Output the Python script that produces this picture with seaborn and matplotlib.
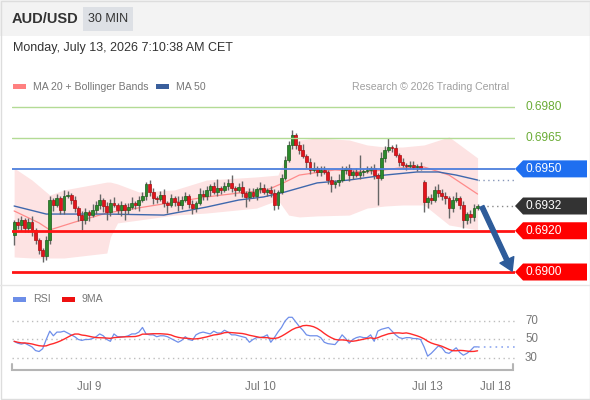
import matplotlib
matplotlib.use("Agg")
import matplotlib.pyplot as plt
import matplotlib.transforms as mtransforms
from matplotlib.patches import Polygon, Rectangle
import numpy as np
import pandas as pd
import seaborn as sns

# ---- data (AUD/USD, 30 min candles) ----
first_open = 0.69179
gap_open = {115: 0.69436}  # weekend gap into Monday
closes = [
    0.69242, 0.69228, 0.69252, 0.69213, 0.69242, 0.69204, 0.69155, 0.69107, 0.69078, 0.69155,
    0.69349, 0.69325, 0.69359, 0.69301, 0.69369, 0.69373, 0.69349, 0.69310, 0.69276, 0.69252,
    0.69291, 0.69276, 0.69301, 0.69325, 0.69349, 0.69320, 0.69291, 0.69335, 0.69325, 0.69301,
    0.69325, 0.69301, 0.69315, 0.69335, 0.69325, 0.69349, 0.69369, 0.69427, 0.69388, 0.69359,
    0.69354, 0.69373, 0.69335, 0.69325, 0.69359, 0.69339, 0.69325, 0.69349, 0.69369, 0.69330,
    0.69310, 0.69335, 0.69378, 0.69369, 0.69398, 0.69417, 0.69388, 0.69407, 0.69398, 0.69417,
    0.69432, 0.69407, 0.69398, 0.69412, 0.69383, 0.69364, 0.69388, 0.69369, 0.69402, 0.69407,
    0.69388, 0.69398, 0.69383, 0.69325, 0.69388, 0.69456, 0.69543, 0.69616, 0.69664, 0.69616,
    0.69592, 0.69562, 0.69533, 0.69495, 0.69504, 0.69485, 0.69495, 0.69485, 0.69446, 0.69427,
    0.69436, 0.69446, 0.69495, 0.69504, 0.69470, 0.69485, 0.69470, 0.69485, 0.69490, 0.69495,
    0.69504, 0.69470, 0.69456, 0.69553, 0.69592, 0.69606, 0.69601, 0.69567, 0.69533, 0.69519,
    0.69514, 0.69519, 0.69509, 0.69514, 0.69504, 0.69339, 0.69359, 0.69349, 0.69398, 0.69383,
    0.69369, 0.69359, 0.69310, 0.69349, 0.69359, 0.69325, 0.69252, 0.69281, 0.69267, 0.69310,
    0.69320]
# wick lengths in pips above / below the body
up_wick = [
    1, 2, 2, 1, 2, 3, 1, 1, 1, 2,
    2, 1, 2, 1, 3, 2, 1, 2, 1, 2,
    2, 1, 3, 2, 3, 1, 2, 2, 3, 1,
    2, 1, 2, 3, 1, 2, 2, 1, 2, 2,
    1, 2, 3, 1, 2, 1, 3, 2, 2, 1,
    2, 1, 3, 2, 2, 1, 2, 4.5, 1, 2,
    2, 4, 1, 2, 3, 1, 2, 2, 1, 3,
    2, 1, 2, 2, 1, 2, 2, 2, 2.5, 1,
    2, 3, 1, 2, 3, 1, 2, 2, 1, 2,
    1, 3, 2, 1, 2, 1, 2, 8, 1, 2,
    1, 2, 1, 3, 2, 4.5, 1, 2, 1, 2,
    1, 2, 2, 1, 2, 1, 1, 2, 2, 3,
    2, 2, 1, 2, 3, 1, 2, 1, 2, 2,
    1]
dn_wick = [
    5, 2, 3, 2, 2, 3, 2, 2, 3, 2,
    2, 3, 1, 2, 2, 1, 2, 2, 3, 5,
    2, 3, 1, 2, 2, 3, 4, 2, 1, 2,
    3, 5, 2, 1, 2, 3, 1, 2, 2, 3,
    2, 1, 2, 4, 1, 2, 3, 2, 1, 2,
    3, 2, 1, 2, 2, 3, 1, 2, 2, 1,
    2, 2, 3, 1, 2, 5, 2, 1, 2, 2,
    1, 2, 2, 2.5, 2, 1, 1, 1, 2, 2,
    2, 1, 3, 2, 1, 2, 2, 1, 2, 4,
    2, 2, 1, 2, 3, 2, 1, 2, 2, 1,
    2, 2, 13, 1, 2, 1, 2, 1, 2, 1,
    2, 1, 1, 2, 1, 5, 3, 2, 1, 2,
    2, 3, 5, 2, 1, 2, 4, 2, 3, 2,
    1]

ma20_idx = [0, 7, 10, 17, 26, 40, 54, 63, 71, 76, 80, 90, 99, 108, 115, 122, 130]
ma20 = [0.69296, 0.69238, 0.69204, 0.69242, 0.69286, 0.69325, 0.69364, 0.69383, 0.69398,
        0.69436, 0.69470, 0.69495, 0.69485, 0.69504, 0.69509, 0.69470, 0.69378]
ma50_idx = [0, 9, 26, 42, 54, 63, 70, 76, 85, 94, 104, 113, 119, 124, 130]
ma50 = [0.69320, 0.69281, 0.69281, 0.69276, 0.69315, 0.69349, 0.69364, 0.69388, 0.69432,
        0.69446, 0.69470, 0.69485, 0.69485, 0.69470, 0.69446]
band_idx = [0, 5, 10, 14, 26, 27, 29, 35, 45, 54, 68, 74, 77, 80, 85, 94, 99, 104, 109, 115, 122, 130]
band_up = [0.69504, 0.69446, 0.69373, 0.69398, 0.69436, 0.69436, 0.69427, 0.69388, 0.69398,
           0.69446, 0.69461, 0.69470, 0.69592, 0.69640, 0.69650, 0.69640, 0.69616, 0.69606,
           0.69606, 0.69616, 0.69655, 0.69553]
band_lo = [0.69073, 0.69068, 0.69068, 0.69068, 0.69092, 0.69170, 0.69238, 0.69252, 0.69276,
           0.69286, 0.69310, 0.69349, 0.69276, 0.69267, 0.69272, 0.69276, 0.69310, 0.69320,
           0.69325, 0.69325, 0.69228, 0.69204]

rsi = [48, 46, 45, 46, 44, 42, 38, 37, 40, 50,
       59, 54, 58, 58, 59, 57, 55, 53, 50, 49,
       50, 50, 51, 53, 56, 54, 50, 48, 56, 53,
       53, 53, 54, 56, 56, 58, 63, 56, 55, 55,
       53, 54, 54, 53, 51, 49, 47, 49, 53, 50,
       49, 55, 57, 58, 57, 56, 59, 57, 57, 60,
       58, 55, 55, 54, 53, 52, 47, 50, 52, 52,
       53, 55, 47, 52, 58, 63, 70, 74, 74, 69,
       64, 60, 55, 54, 54, 54, 52, 47, 45.5, 45,
       44.5, 49, 55, 51, 46, 50, 52, 53, 52, 52,
       55, 48, 59, 61, 62, 63, 59, 55, 52, 51,
       52, 52, 51, 51, 50, 42, 32, 35, 39, 43,
       41, 36, 35, 38, 41, 36, 33, 35, 38, 42,
       42]

green_levels = [0.6980, 0.6965]
blue_level = 0.6950
red_levels = [0.6920, 0.6900]
target = 0.6900
rsi_levels = [70, 50, 30]
tick_pos = [21, 69, 116, 135]
tick_labels = ["Jul 9", "Jul 10", "Jul 13", "Jul 18"]

# ---- derived candle fields ----
n = len(closes)
idx = np.arange(n)
opens = [first_open] + closes[:-1]
for k, v in gap_open.items():
    opens[k] = v
df = pd.DataFrame({"i": idx, "open": opens, "close": closes})
df["top"] = df[["open", "close"]].max(axis=1)
df["bot"] = df[["open", "close"]].min(axis=1)
df["high"] = df["top"] + np.array(up_wick) * 0.0001
df["low"] = df["bot"] - np.array(dn_wick) * 0.0001
df["up"] = df["close"] >= df["open"]
rsi_ma = pd.Series(rsi).rolling(9, min_periods=1).mean()

# ---- figure ----
sns.set_theme(style="white")
plt.rcParams["font.family"] = ["Liberation Sans", "DejaVu Sans"]

W, H = 590, 400
fig = plt.figure(figsize=(W / 100, H / 100), dpi=100)


def rect(x0, y0, x1, y1):
    return [x0 / W, 1 - y1 / H, (x1 - x0) / W, (y1 - y0) / H]


ax = fig.add_axes(rect(12, 97, 515, 283))
ax2 = fig.add_axes(rect(12, 306, 515, 370))
ov = fig.add_axes([0, 0, 1, 1], zorder=5)
ov.set_xlim(0, W)
ov.set_ylim(H, 0)
ov.axis("off")
ov.patch.set_visible(False)

xlim = (0.0, 140.5)
ylim = (0.689467, 0.698485)
ax.set_xlim(-0.6, xlim[1])
ax.set_ylim(*ylim)
ax.axis("off")
px_per_price = (283 - 97) / (ylim[1] - ylim[0])

# bollinger + moving averages
ax.fill_between(band_idx, band_lo, band_up, color="#fde3e3", lw=0, zorder=1)
sns.lineplot(x=ma20_idx, y=ma20, ax=ax, color="#ff8a8a", lw=0.9, zorder=3)
sns.lineplot(x=ma50_idx, y=ma50, ax=ax, color="#3f68ad", lw=1.0, zorder=3)

# candles
ax.vlines(df["i"], df["low"], df["high"], color="#666666", lw=1, zorder=4)
body_h = np.maximum(df["top"] - df["bot"], 0.00005)
cols = np.where(df["up"], "#2c8a2c", "#e3141c")
edges = np.where(df["up"], "#1d5e1d", "#a81014")
ax.bar(df["i"], body_h, bottom=df["bot"], width=0.8, color=cols, edgecolor=edges,
       linewidth=0.5, zorder=5)

# horizontal levels
for lv in green_levels:
    ax.axhline(lv, color="#b3db95", lw=1, zorder=6)
ax.axhline(blue_level, color="#4d7fdc", lw=1.3, zorder=6)
for lv in red_levels:
    ax.axhline(lv, color="#ff1414", lw=2, zorder=6)

# dotted extensions
ax.hlines(closes[-1], 131.3, xlim[1], color="#888888", lw=1, linestyles=(0, (1, 2.5)), zorder=6)
ax.hlines(ma50[-1], 130.2, xlim[1], color="#8796b8", lw=1, linestyles=(0, (1, 2.5)), zorder=6)

# forecast arrow
ax.annotate("", xy=(139.7, target + 0.00004), xytext=(131.2, closes[-1] - 0.00002),
            arrowprops=dict(facecolor="#2e5c9a", edgecolor="#2e5c9a", width=3.2,
                            headwidth=11, headlength=9, shrink=0),
            annotation_clip=False, zorder=7)

# right-hand labels and tags
tr = mtransforms.blended_transform_factory(ov.transData, ax.transData)
half = 8.5 / px_per_price


def tag(price, fc, txt_col="white"):
    pts = [(515, price), (523, price + half), (587, price + half),
           (587, price - half), (523, price - half)]
    ov.add_patch(Polygon(pts, closed=True, fc=fc, ec="none", transform=tr, clip_on=False))
    ov.text(525, price, f"{price:.4f}", transform=tr, color=txt_col, fontsize=8.6,
            va="center", ha="left", clip_on=False)


for lv in green_levels:
    ov.text(525, lv, f"{lv:.4f}", transform=tr, color="#6aac35", fontsize=8.6,
            va="center", ha="left")
tag(blue_level, "#1f6ff0")
tag(round(closes[-1], 4), "#333333")
for lv in red_levels:
    tag(lv, "#ff0000")

# ---- RSI panel ----
ax2.set_xlim(-0.6, xlim[1])
ax2.set_ylim(17.0, 86.2)
for lv in rsi_levels:
    ax2.axhline(lv, color="#bdbdbd", lw=1, ls=(0, (1, 2.5)), zorder=1)
sns.lineplot(x=idx, y=rsi, ax=ax2, color="#6f8fea", lw=0.9, zorder=3)
sns.lineplot(x=idx, y=rsi_ma.values, ax=ax2, color="#ff2a2a", lw=1.0, zorder=4)
ax2.hlines(rsi[-1], 130, xlim[1], color="#8fa8f0", lw=1.2, linestyles=(0, (1, 2.5)), zorder=3)
for sp in ax2.spines.values():
    sp.set_visible(False)
ax2.set_yticks([])
ax2.set_xticks(tick_pos, tick_labels)
ax2.tick_params(axis="x", length=0, pad=8, labelsize=8.3, colors="#777777")
ax2.set_xlabel("")
ax2.set_ylabel("")
tr2 = mtransforms.blended_transform_factory(ov.transData, ax2.transData)
for lv in rsi_levels:
    ov.text(525, lv, str(lv), transform=tr2, color="#777777", fontsize=8.3,
            va="center", ha="left")

# ---- header, legends, frame ----
ov.add_patch(Rectangle((0, 0), W, 36, fc="#f3f3f3", ec="none"))
ov.add_patch(Rectangle((83, 7), 50, 24, fc="#dde0e5", ec="none"))
ov.text(12, 19, "AUD/USD", fontsize=10.5, fontweight="bold", color="#333333", va="center")
ov.text(108, 19, "30 MIN", fontsize=9, color="#333333", va="center", ha="center")
ov.text(13, 48, "Monday, July 13, 2026 7:10:38 AM CET", fontsize=9, color="#333333",
        va="center")

ov.add_patch(Rectangle((13, 84), 13, 5, fc="#ff8080", ec="none"))
ov.text(33, 86.5, "MA 20 + Bollinger Bands", fontsize=7.6, color="#777777", va="center")
ov.add_patch(Rectangle((156, 84), 13, 5, fc="#3a5f9c", ec="none"))
ov.text(176, 86.5, "MA 50", fontsize=7.6, color="#777777", va="center")
ov.text(509, 86.5, "Research \u00a9 2026 Trading Central", fontsize=7.6, color="#a0a0a0",
        va="center", ha="right")

ov.add_patch(Rectangle((13, 297), 13, 5, fc="#6d8ee8", ec="none"))
ov.text(33, 299.5, "RSI", fontsize=7.6, color="#777777", va="center")
ov.add_patch(Rectangle((62, 297), 13, 5, fc="#ee1111", ec="none"))
ov.text(82, 299.5, "9MA", fontsize=7.6, color="#777777", va="center")

ov.plot([0, W], [284.5, 284.5], color="#e6e6e6", lw=1)
ov.plot([12, 12, 513, 513], [364, 370, 370, 364], color="#b5b5b5", lw=1.5,
        solid_joinstyle="miter")
ov.add_patch(Rectangle((0.5, 0.5), W - 1, H - 1.5, fill=False, ec="#dddddd", lw=1))

fig.savefig("out.png", dpi=100)
